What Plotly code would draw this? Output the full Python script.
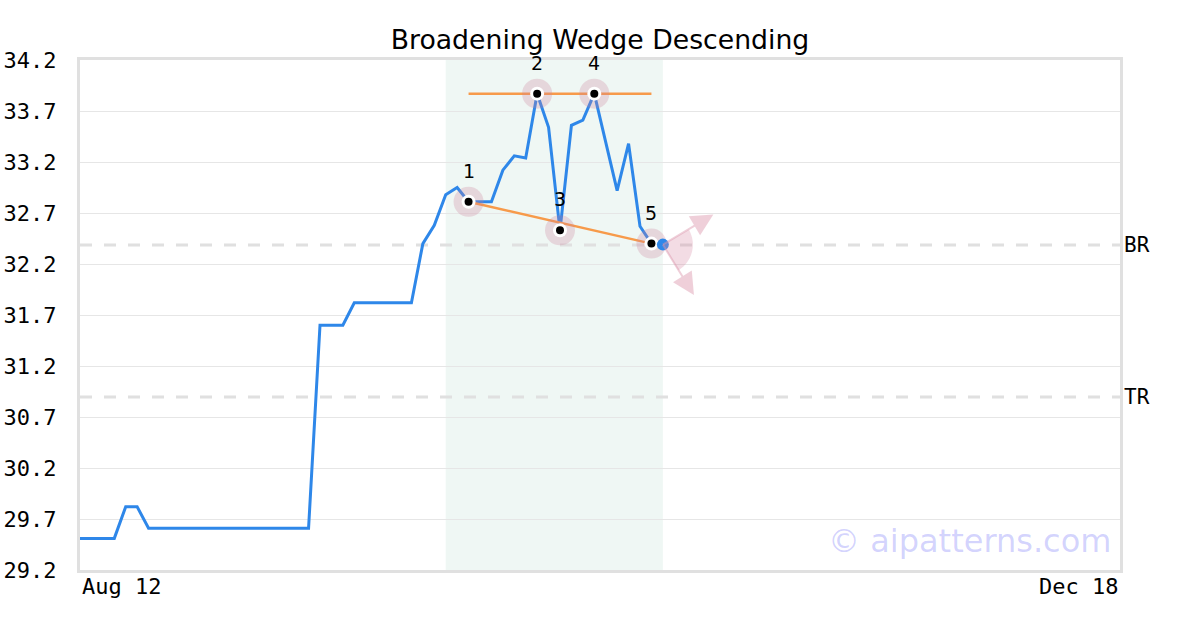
import numpy as np
import plotly.graph_objects as go

# closing prices, one per trading day from Aug 12
prices = [29.51, 29.51, 29.51, 29.51, 29.82, 29.82,
          29.61, 29.61, 29.61, 29.61, 29.61, 29.61, 29.61, 29.61,
          29.61, 29.61, 29.61, 29.61, 29.61, 29.61, 29.61,
          31.60, 31.60, 31.60,
          31.82, 31.82, 31.82, 31.82, 31.82, 31.82,
          32.40, 32.58, 32.88, 32.95, 32.81, 32.81, 32.81,
          33.12, 33.26, 33.24, 33.87, 33.54, 32.53, 33.56, 33.61,
          33.87, 33.40, 32.92, 33.38, 32.57, 32.40, 32.39]
n_days = 91  # axis runs to Dec 18

pivot_idx = [34, 40, 42, 45, 50]
pivot_val = [32.81, 33.87, 32.53, 33.87, 32.40]
pivot_lbl = ["1", "2", "3", "4", "5"]

top_line_x = [34, 50]
top_line_y = [33.87, 33.87]
bot_line_x = [34, 50]
bot_line_y = [32.81, 32.40]

pattern_start, pattern_end = 32, 51
br_level = 32.386
tr_level = 30.896

y_ticks = [29.2, 29.7, 30.2, 30.7, 31.2, 31.7, 32.2, 32.7, 33.2, 33.7, 34.2]
first_label, last_label = "Aug 12", "Dec 18"

blue = "#2e87e9"
orange = "#f79a4a"
pink = "rgba(205,130,155,0.28)"
mono = "DejaVu Sans Mono"

days = list(range(len(prices)))

fig = go.Figure()
fig.add_trace(go.Scatter(x=days, y=prices, mode="lines",
                         line=dict(color=blue, width=3)))
fig.add_trace(go.Scatter(x=top_line_x, y=top_line_y, mode="lines",
                         line=dict(color=orange, width=2.5)))
fig.add_trace(go.Scatter(x=bot_line_x, y=bot_line_y, mode="lines",
                         line=dict(color=orange, width=2.5)))
# pivot markers: pink halo, white ring, black dot
fig.add_trace(go.Scatter(x=pivot_idx, y=pivot_val, mode="markers",
                         marker=dict(size=30, color=pink)))
fig.add_trace(go.Scatter(x=pivot_idx, y=pivot_val, mode="markers",
                         marker=dict(size=14, color="white")))
fig.add_trace(go.Scatter(x=pivot_idx, y=pivot_val, mode="markers",
                         marker=dict(size=8, color="black")))
for xi, yi, t in zip(pivot_idx, pivot_val, pivot_lbl):
    fig.add_annotation(x=xi, y=yi, text=t, showarrow=False, yshift=31,
                       font=dict(family="DejaVu Sans", size=19, color="black"))
# last price
fig.add_trace(go.Scatter(x=[days[-1]], y=[prices[-1]], mode="markers",
                         marker=dict(size=12, color=blue)))

# breakout sector drawn in pixels around the last point
r = 30
ang = np.radians(np.linspace(-59, 30, 40))
pts = " ".join(f"L{r*np.cos(a):.1f},{r*np.sin(a):.1f}" for a in ang)
fig.add_shape(type="path", xref="x", yref="y", xsizemode="pixel", ysizemode="pixel",
              xanchor=days[-1], yanchor=prices[-1],
              path=f"M0,0 {pts} Z", fillcolor="rgba(215,140,165,0.3)",
              line=dict(width=0), layer="above")

for ax, ay in [(52, -31), (32, 52)]:
    fig.add_annotation(x=days[-1], y=prices[-1], ax=ax, ay=ay, text="",
                       showarrow=True, arrowside="start",
                       startarrowhead=2, startarrowsize=2.2,
                       arrowwidth=2, arrowcolor="rgba(220,150,172,0.45)",
                       standoff=0, startstandoff=0)

fig.add_shape(type="rect", xref="x", yref="paper", x0=pattern_start, x1=pattern_end,
              y0=0, y1=1, fillcolor="#eff7f4", line=dict(width=0), layer="below")
for lvl, name in [(br_level, "BR"), (tr_level, "TR")]:
    fig.add_shape(type="line", xref="paper", yref="y", x0=0, x1=1, y0=lvl, y1=lvl,
                  line=dict(color="#e0e0e0", width=3, dash="12px,12px"), layer="between")
    fig.add_annotation(x=1, xref="paper", y=lvl, yref="y", text=name, showarrow=False,
                       xanchor="left", xshift=2, font=dict(family=mono, size=21, color="black"))

fig.add_annotation(x=0, y=0, xref="x", yref="paper", text=first_label, showarrow=False,
                   xanchor="left", yanchor="top", yshift=-2,
                   font=dict(family=mono, size=22, color="black"))
fig.add_annotation(x=n_days, y=0, xref="x", yref="paper", text=last_label, showarrow=False,
                   xanchor="right", yanchor="top", yshift=-2,
                   font=dict(family=mono, size=22, color="black"))
fig.add_annotation(x=0.993, y=0.015, xref="paper", yref="paper", text="© aipatterns.com",
                   showarrow=False, xanchor="right", yanchor="bottom",
                   font=dict(family="DejaVu Sans", size=32, color="rgba(120,120,250,0.32)"))

fig.update_layout(
    width=1200, height=630,
    margin=dict(l=80, r=80, t=60, b=60, autoexpand=False),
    title=dict(text="Broadening Wedge Descending", x=0.5, xanchor="center", xref="paper",
               y=0.9365, yanchor="middle", automargin=False,
               font=dict(family="DejaVu Sans", size=26.7, color="black")),
    plot_bgcolor="white", paper_bgcolor="white",
    showlegend=False,
    xaxis=dict(range=[0, n_days], showgrid=False, zeroline=False, showticklabels=False,
               automargin=False,
               showline=True, mirror=True, linecolor="#e0e0e0", linewidth=3),
    yaxis=dict(range=[29.2, 34.2], tickvals=y_ticks, ticktext=[f"{v:.1f}" for v in y_ticks],
               showgrid=True, gridcolor="#e6e6e6", gridwidth=1, zeroline=False,
               automargin=False,
               showline=True, mirror=True, linecolor="#e0e0e0", linewidth=3,
               ticklabelstandoff=16,
               tickfont=dict(family=mono, size=22, color="black")),
)

# drop the browser's default body margin so the figure sits at the page corner
fig.write_html("out.html", config={"displayModeBar": False},
               post_script="document.body.style.margin='0px';")
